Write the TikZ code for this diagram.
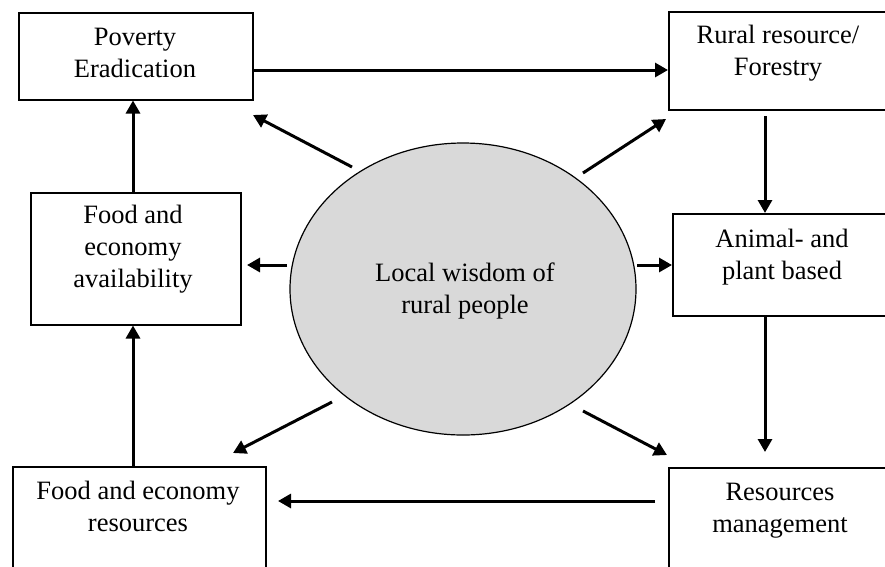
\documentclass[tikz,border=0pt]{standalone}
\usepackage{fontspec}
\setmainfont{Liberation Serif}
\usetikzlibrary{arrows.meta,shapes.geometric}
\definecolor{wisdomgray}{RGB}{217,217,217}
\begin{document}
\begin{tikzpicture}[x=1pt,y=-1pt,
  box/.style={draw=black, line width=1.5pt, inner sep=0pt, anchor=north west},
  lbl/.style={align=center, font=\fontsize{26.5}{32}\selectfont, inner sep=0pt},
  arr/.style={line width=3pt, -{Triangle[length=13pt,width=14pt]}}]
\useasboundingbox (0,0) rectangle (885,566);
\clip (0,0) rectangle (885,566);
% boxes
\node[box, minimum width=234pt, minimum height=87pt] (pov) at (18,12) {};
\node[box, minimum width=240pt, minimum height=98pt] (rural) at (668,11) {};
\node[box, minimum width=210pt, minimum height=132pt] (avail) at (30,192) {};
\node[box, minimum width=240pt, minimum height=102pt] (animal) at (672,213) {};
\node[box, minimum width=253pt, minimum height=130pt] (fres) at (12,466) {};
\node[box, minimum width=240pt, minimum height=130pt] (resm) at (668,467) {};
% ellipse
\node[ellipse, draw=black, line width=1.2pt, fill=wisdomgray, minimum width=346pt, minimum height=292pt, inner sep=0pt] (wis) at (463,289) {};
% texts
\node[lbl] (povt) at (135,55) {\strut Poverty\\\strut Eradication};
\node[lbl] (ruralt) at (778,53) {\strut Rural resource/\\\strut Forestry};
\node[lbl] (availt) at (133,249) {\strut Food and\\\strut economy\\\strut availability};
\node[lbl] (animalt) at (782,257) {\strut Animal- and\\\strut plant based};
\node[lbl] (wist) at (465,291) {\strut Local wisdom of\\\strut rural people};
\node[lbl] (frest) at (138,509) {\strut Food and economy\\\strut resources};
\node[lbl] (resmt) at (780,510) {\strut Resources\\\strut management};
% coordinates for free arrow ends
\coordinate (top) at (252,70);
\coordinate (r1) at (765,116);
\coordinate (a2) at (765,452);
\coordinate (m1) at (655,501);
\coordinate (m2) at (278,501);
\coordinate (ul1) at (352,167);
\coordinate (ul2) at (253,115);
\coordinate (ur1) at (583,173);
\coordinate (ur2) at (666,119);
\coordinate (ll1) at (332,402);
\coordinate (ll2) at (233,453);
\coordinate (lr1) at (583,411);
\coordinate (lr2) at (667,455);
\coordinate (l1) at (287,265);
\coordinate (l2) at (247,265);
\coordinate (rr1) at (637,265);
% connectors
\draw[arr] (top) -- (top -| rural.west);
\draw[arr] (avail.north -| 133,0) -- (pov.south -| 133,0);
\draw[arr] (fres.north -| 133,0) -- (avail.south -| 133,0);
\draw[arr] (r1) -- (r1 |- animal.north);
\draw[arr] (animal.south -| r1) -- (a2);
\draw[arr] (m1) -- (m2);
\draw[arr] (ul1) -- (ul2);
\draw[arr] (ur1) -- (ur2);
\draw[arr] (ll1) -- (ll2);
\draw[arr] (lr1) -- (lr2);
\draw[arr] (l1) -- (l2);
\draw[arr] (rr1) -- (rr1 -| animal.west);
\end{tikzpicture}
\end{document}
